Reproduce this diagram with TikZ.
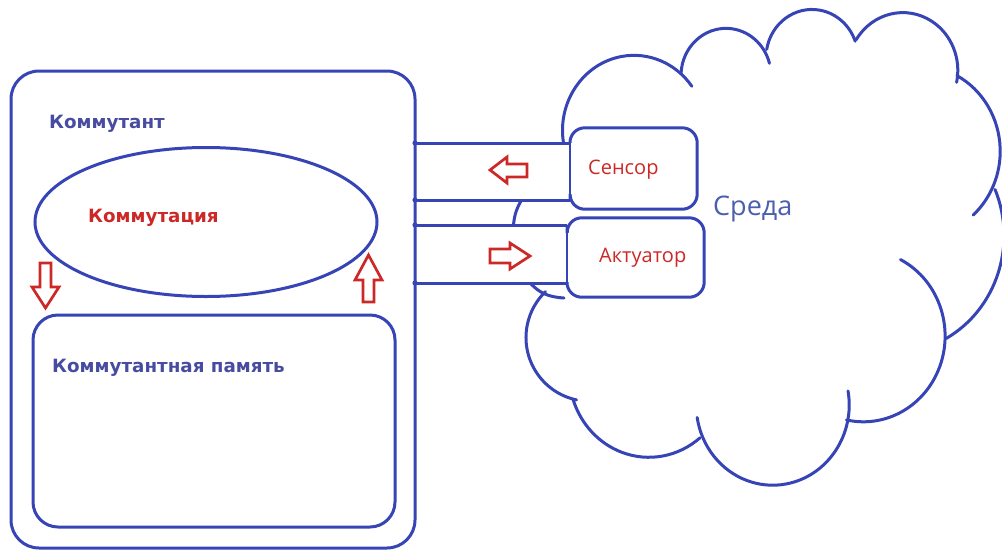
\documentclass[tikz,border=0pt]{standalone}
\usepackage{fontspec}
\setmainfont{Open Sans}
\newfontfamily\djv{DejaVu Sans}
\usetikzlibrary{shapes.geometric}
\definecolor{lineblue}{RGB}{55,68,182}
\definecolor{txtblue}{RGB}{72,76,160}
\definecolor{sredablue}{RGB}{75,95,175}
\definecolor{myred}{RGB}{205,40,40}
\tikzset{
  ln/.style={draw=lineblue, line width=3pt},
  thinln/.style={draw=lineblue, line width=1.2pt},
  cloudln/.style={draw=lineblue, line width=3pt, line cap=round},
  harrow/.style={draw=myred, fill=white, line width=2.7pt, line join=miter},
  boldlbl/.style={font=\djv\bfseries\fontsize{18.3pt}{20pt}\selectfont, inner sep=0pt, anchor=base west},
  reglbl/.style={font=\fontsize{20pt}{22pt}\selectfont, text=myred, inner sep=0pt, anchor=base west},
  dotst/.style={fill=lineblue}
}
\begin{document}
\begin{tikzpicture}[x=1pt,y=1pt]
\useasboundingbox (0,0) rectangle (1002,-550);
\fill[white] (0,0) rectangle (1002,-550);

% ---------- cloud (Среда) ----------
\begin{scope}[yscale=1.05]
\draw[cloudln] ([shift={(190:71.5)}]634,-124.2) arc[start angle=190,end angle=36,radius=71.5];
\draw[cloudln] ([shift={(177:45)}]726,-72) arc[start angle=177,end angle=15,radius=45];
\draw[cloudln] ([shift={(170:46)}]812,-55) arc[start angle=170,end angle=20,radius=46];
\draw[cloudln] ([shift={(148:55)}]902.8,-67) arc[start angle=148,end angle=-12,radius=55];
\draw[cloudln] ([shift={(62:81.7)}]918.5,-144.1) arc[start angle=62,end angle=-48,radius=81.7];
\draw[cloudln] ([shift={(23:112)}]892,-224.3) arc[start angle=23,end angle=-61,radius=112];
\draw[cloudln] ([shift={(63:81.7)}]863.4,-320) arc[start angle=63,end angle=-102,radius=81.7];
\draw[cloudln] ([shift={(10:76.5)}]772.7,-385.6) arc[start angle=10,end angle=-171,radius=76.5];
\draw[cloudln] ([shift={(-50:79.7)}]648.9,-355.8) arc[start angle=-50,end angle=-162,radius=79.7];
\end{scope}
\draw[cloudln] ([shift={(258:63.8)}]589.8,-337.5) arc[start angle=258,end angle=134,radius=63.8];
\draw[cloudln] (531,-284) .. controls (540,-293) and (548,-297) .. (564,-298);
\draw[cloudln] (513.5,-225) to[bend left=12] (521,-201);

% ---------- Коммутант ----------
\node[ln, rounded corners=28pt, minimum width=404pt, minimum height=477pt, inner sep=0pt] (kt) at (213,-309.5) {};
\node[boldlbl, text=txtblue] (ktl) at (49,-128.5) {Коммутант};
\node[ln, ellipse, minimum width=342pt, minimum height=149pt, inner sep=0pt] (comm) at (206,-222) {};
\node[boldlbl, text=myred] (comml) at (88,-222.5) {Коммутация};
\node[ln, rounded corners=25pt, minimum width=362pt, minimum height=212pt, inner sep=0pt] (mem) at (214,-421) {};
\node[boldlbl, text=txtblue] (meml) at (52,-372.5) {Коммутантная память};

% hollow arrows between Коммутация and память
\draw[harrow] (40,-263) -- (51,-263) -- (51,-287) -- (59,-287) -- (45.5,-308) -- (32,-287) -- (40,-287) -- cycle;
\draw[harrow] (363,-302) -- (374,-302) -- (374,-280) -- (382,-280) -- (368.5,-255) -- (355,-280) -- (363,-280) -- cycle;

% ---------- Сенсор / Актуатор ----------
\node[minimum width=127pt, minimum height=81pt, inner sep=0pt, fill=white] (sen) at (633.5,-168.5) {};
\node[minimum width=137pt, minimum height=79pt, inner sep=0pt, fill=white] (act) at (635.5,-257.5) {};
\draw[ln, rounded corners=15pt] (570,-143) -- (sen.north west) -- (sen.north east) -- (sen.south east) -- (sen.south west) -- (570,-200);
\draw[thinln] (570,-143) -- (570,-200);
\draw[ln, rounded corners=15pt] (567,-225) -- (act.north west) -- (act.north east) -- (act.south east) -- (act.south west) -- (567,-283);
\draw[thinln] (567,-225) -- (567,-283);
\node[reglbl] (senl) at (588,-174) {Сенсор};
\node[reglbl] (actl) at (599,-262) {Актуатор};

% channels
\coordinate (c1) at (415,-143);
\coordinate (c2) at (415,-200);
\coordinate (c3) at (415,-225);
\coordinate (c4) at (415,-283);
\draw[ln] (c1) -- (c1 -| sen.west);
\draw[ln] (c2) -- (c2 -| sen.west);
\draw[ln] (c3) -- (c3 -| act.west);
\draw[ln] (c4) -- (c4 -| act.west);
\foreach \c in {c1,c2,c3,c4} \fill[dotst] (\c) circle (2.6pt);

% arrows in channels
\draw[harrow] (527,-164) -- (507,-164) -- (507,-157) -- (490,-170) -- (507,-183) -- (507,-177) -- (527,-177) -- cycle;
\draw[harrow] (490,-249) -- (510,-249) -- (510,-243) -- (530,-256) -- (510,-269) -- (510,-263) -- (490,-263) -- cycle;

% Среда
\node[font=\fontsize{27pt}{29pt}\selectfont, text=sredablue, inner sep=0pt, anchor=base west] (sreda) at (713,-215) {Среда};
\end{tikzpicture}
\end{document}
